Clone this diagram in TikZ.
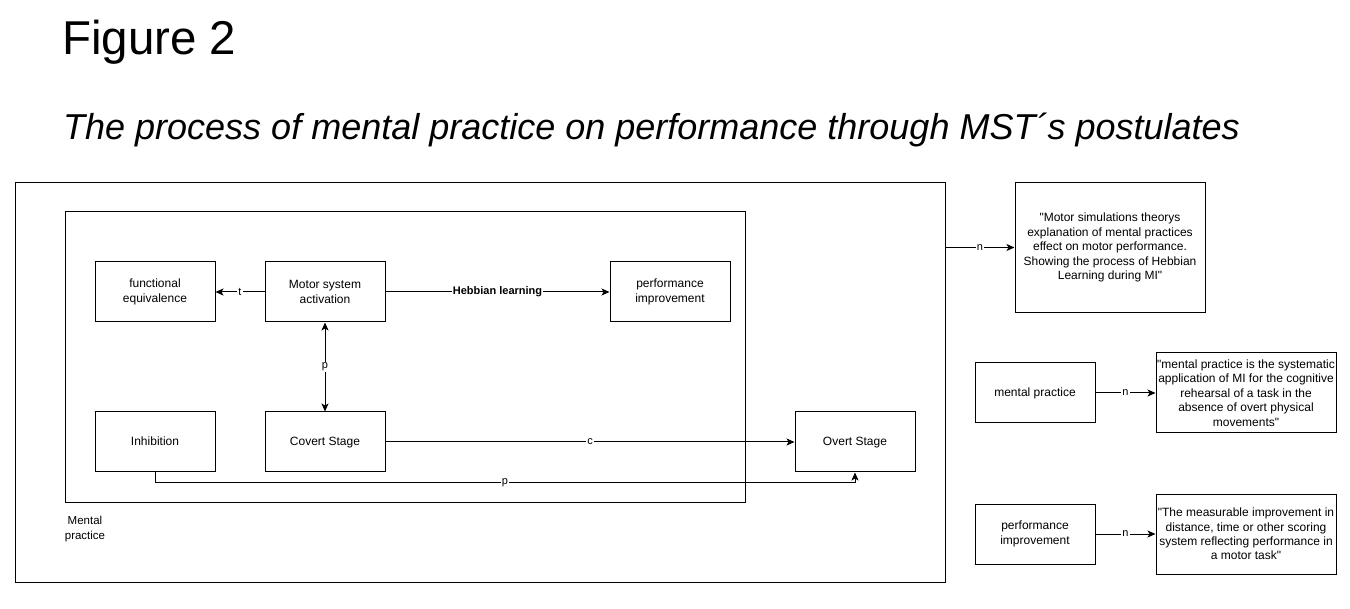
\documentclass[tikz,border=0pt]{standalone}
\usepackage{fontspec}
\setmainfont{Liberation Sans}[Ligatures=TeXOff]
\usetikzlibrary{arrows.meta}
\tikzset{
  box/.style={draw, line width=1pt, minimum width=120pt, minimum height=60pt, align=center, inner sep=1pt, font=\fontsize{12}{14.4}\selectfont},
  onebox/.style={box, text height=9pt, text depth=2.5pt},
  frame/.style={draw, line width=1pt, inner sep=0pt},
  lbl/.style={fill=white, inner sep=1pt, font=\fontsize{11}{13}\selectfont},
  arr/.style={line width=1pt, -{Stealth[length=8pt, width=7pt, inset=2pt]}},
  darr/.style={line width=1pt, {Stealth[length=8pt, width=7pt, inset=2pt]}-{Stealth[length=8pt, width=7pt, inset=2pt]}},
}
\begin{document}
\begin{tikzpicture}[x=1pt,y=-1pt]
\useasboundingbox (0,0) rectangle (1350,609);
% titles
\node[anchor=base west, inner sep=0pt, font=\fontsize{47.5}{57}\selectfont] (fig) at (62,55) {Figure 2};
\node[anchor=base west, inner sep=0pt, font=\fontsize{36}{43}\selectfont\itshape] (sub) at (63,140) {The process of mental practice on performance through MST´s postulates};
% frames
\node[frame, minimum width=930pt, minimum height=399pt] (outer) at (480,382.5) {};
\node[frame, minimum width=680pt, minimum height=290pt] (inner) at (405,357) {};
\node[align=center, inner sep=0pt, font=\fontsize{11.5}{15}\selectfont] (mpl) at (85,529) {Mental\\practice};
% boxes
\node[box] (fe) at (155,292) {functional\\equivalence};
\node[box] (msa) at (325,292) {Motor system\\activation};
\node[box] (pi) at (670,292) {performance\\improvement};
\node[onebox] (inh) at (155,442) {Inhibition};
\node[onebox] (cs) at (325,442) {Covert Stage};
\node[onebox] (os) at (855,442) {Overt Stage};
% connectors
\draw[arr] (msa) -- node[lbl] {t} (fe);
\draw[arr] (msa) -- node[lbl, font=\fontsize{11}{13}\selectfont\bfseries] {Hebbian learning} (pi);
\draw[darr] (msa) -- node[lbl] {p} (cs);
\draw[arr] (cs) -- node[lbl] {c} (os);
\draw[arr] (inh.south) -- ++(0,10) -| node[lbl, pos=0.25] {p} (os.south);
% right side
\node[box, minimum width=190pt, minimum height=130pt] (desc) at (1110,247.5) {"Motor simulations theorys\\explanation of mental practices\\effect on motor performance.\\Showing the process of Hebbian\\Learning during MI"};
\node[onebox] (mp) at (1035,393) {mental practice};
\node[box, minimum width=180pt, minimum height=80pt, inner sep=0pt] (mpd) at (1246,393) {"mental practice is the systematic\\application of MI for the cognitive\\rehearsal of a task in the\\absence of overt physical\\movements"};
\node[box] (pi2) at (1035,534) {performance\\improvement};
\node[box, minimum width=180pt, minimum height=80pt, inner sep=0pt] (pid) at (1246,534) {"The measurable improvement in\\distance, time or other scoring\\system reflecting performance in\\a motor task"};
\draw[arr] (desc.west -| outer.east) -- node[lbl] {n} (desc.west);
\draw[arr] (mp) -- node[lbl] {n} (mpd);
\draw[arr] (pi2) -- node[lbl] {n} (pid);
\end{tikzpicture}
\end{document}
